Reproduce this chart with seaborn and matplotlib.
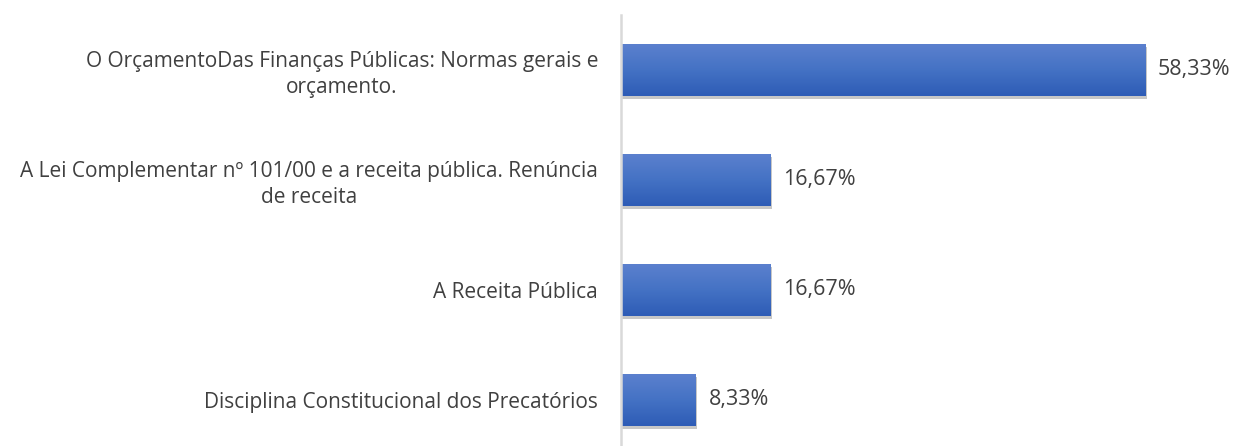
import numpy as np
import pandas as pd
import matplotlib.pyplot as plt
import matplotlib.patheffects as pe
from matplotlib.colors import LinearSegmentedColormap
import seaborn as sns

categorias = [
    "O OrçamentoDas Finanças Públicas: Normas gerais e\norçamento.",
    "A Lei Complementar nº 101/00 e a receita pública. Renúncia\nde receita",
    "A Receita Pública",
    "Disciplina Constitucional dos Precatórios",
]
valores = [58.33, 16.67, 16.67, 8.33]
rotulos = ["58,33%", "16,67%", "16,67%", "8,33%"]

df = pd.DataFrame({"cat": categorias, "val": valores})

sns.set_theme(style="white")
plt.rcParams["font.family"] = ["Open Sans", "DejaVu Sans"]

fig = plt.figure(figsize=(12.36, 4.46), dpi=100)
ax = fig.add_axes([621 / 1236, -9 / 446, 1 - 621 / 1236, 440 / 446])

sns.barplot(data=df, x="val", y="cat", orient="h", color="#4472C4",
            width=0.47, ax=ax, saturation=1, linewidth=0)

# gradiente + sombra suave
grad = LinearSegmentedColormap.from_list("g", ["#5B80CE", "#4472C4", "#2E5CB6"])
shadow = [pe.SimplePatchShadow(offset=(1.0, -2.2), shadow_rgbFace="#000000", alpha=0.22), pe.Normal()]
for bar in ax.patches:
    bar.set_path_effects(shadow)
    x0, y0 = bar.get_x(), bar.get_y()
    w, h = bar.get_width(), bar.get_height()
    img = ax.imshow(np.linspace(0, 1, 64).reshape(-1, 1), cmap=grad, aspect="auto",
                    extent=[x0, x0 + w, y0 + h, y0], zorder=bar.get_zorder() + 0.1)
    img.set_clip_path(bar)

for i, (v, r) in enumerate(zip(valores, rotulos)):
    ax.text(v + 1.4, i, r, va="center", ha="left", fontsize=15.5, color="#404040")

ax.set_xlim(0, 68.4)
ax.set_ylim(3.5, -0.5)
ax.set_xlabel("")
ax.set_ylabel("")
ax.set_xticks([])
ax.tick_params(axis="y", length=0, pad=16.5)
for lab in ax.get_yticklabels():
    lab.set_fontsize(15)
    lab.set_color("#404040")
    lab.set_multialignment("center")
    lab.set_linespacing(1.3)
for s in ["top", "right", "bottom"]:
    ax.spines[s].set_visible(False)
ax.spines["left"].set_color("#D9D9D9")
ax.spines["left"].set_linewidth(1.8)

fig.savefig("out.png", dpi=100)
